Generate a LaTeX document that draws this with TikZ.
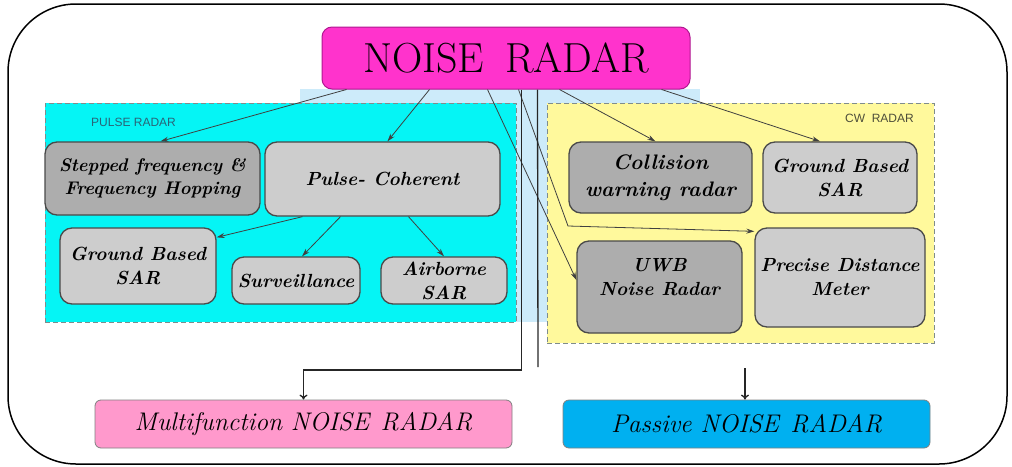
\documentclass[tikz,border=0pt]{standalone}
\usepackage{fontspec}
\setsansfont{Liberation Sans}
\usetikzlibrary{arrows.meta, positioning}

\definecolor{noisepink}{HTML}{FF33CC}
\definecolor{noiseline}{HTML}{B01890}
\definecolor{pulsecyan}{HTML}{05F5F5}
\definecolor{cwyellow}{HTML}{FFF99C}
\definecolor{bandblue}{HTML}{CDEBFA}
\definecolor{greylight}{HTML}{CDCDCD}
\definecolor{greydark}{HTML}{ADADAD}
\definecolor{boxline}{HTML}{4A4A4A}
\definecolor{groupline}{HTML}{7F8C8C}
\definecolor{multipink}{HTML}{FF99CC}
\definecolor{passiveblue}{HTML}{00B0F0}
\definecolor{pulsetext}{HTML}{2A6478}
\definecolor{cwtext}{HTML}{4E4E3A}

\begin{document}
\begin{tikzpicture}[x=1pt, y=-1pt, >={Stealth[length=8pt,width=5pt]},
    box/.style={draw=boxline, rectangle, rounded corners=12pt, line width=1.3pt, align=center,
        font=\fontsize{19}{24}\selectfont\bfseries\itshape, inner sep=2pt},
    lightbox/.style={box, fill=greylight},
    darkbox/.style={box, fill=greydark},
    group/.style={draw=groupline, dashed, dash pattern=on 5pt off 3pt, line width=1pt, inner sep=0pt},
    grouplabel/.style={font=\sffamily\fontsize{12}{14}\selectfont, inner sep=0pt},
    result/.style={draw=boxline!70, rounded corners=6pt, line width=0.8pt,
        font=\fontsize{25.5}{28}\selectfont\itshape, inner sep=0pt, minimum height=48pt},
    link/.style={->, draw=black!75, line width=0.8pt},
    feed/.style={draw=black!85, line width=1.3pt},
    down/.style={feed, -{To[length=5pt,width=8pt]}},
]
\useasboundingbox (0,0) rectangle (1012,466);

% frame
\draw[line width=1.5pt, rounded corners=68pt] (8,4) rectangle (1007,464);

% light band behind the two groups
\fill[bandblue] (300,89) rectangle (700,322);

% groups
\node[group, fill=pulsecyan, minimum width=471pt, minimum height=219pt] (pulse) at (280.5,212.5) {};
\node[group, fill=cwyellow, minimum width=387pt, minimum height=240pt] (cw) at (740.5,223) {};
\node[grouplabel, text=pulsetext, anchor=west] (pulselbl) at (91,122) {PULSE RADAR};
\node[grouplabel, text=cwtext, anchor=east] (cwlbl) at (914,118) {CW\ \ RADAR};

% top
\node[draw=noiseline, fill=noisepink, rounded corners=10pt, line width=1pt,
    minimum width=368pt, minimum height=62pt, font=\fontsize{42}{46}\selectfont] (noise) at (506,58) {NOISE\hspace{.5em}RADAR};

% pulse radar
\node[darkbox, minimum width=215pt, minimum height=73pt, font=\fontsize{18.3}{23}\selectfont\bfseries\itshape] (stepped) at (152.5,178.5) {Stepped frequency \&\\Frequency Hopping};
\node[lightbox, minimum width=235pt, minimum height=74pt] (coherent) at (382.5,179) {Pulse- Coherent};
\node[lightbox, minimum width=156pt, minimum height=76pt] (gbsarL) at (138,266) {Ground Based\\SAR};
\node[lightbox, minimum width=128pt, minimum height=47pt] (surv) at (296,280.5) {Surveillance};
\node[lightbox, minimum width=126pt, minimum height=47pt] (airborne) at (444,280.5) {Airborne\\SAR};

% cw radar
\node[darkbox, minimum width=183pt, minimum height=71pt, font=\fontsize{21}{27}\selectfont\bfseries\itshape] (collision) at (660.5,177.5) {Collision\\warning radar};
\node[lightbox, minimum width=154pt, minimum height=71pt] (gbsarR) at (840,177.5) {Ground Based\\SAR};
\node[darkbox, minimum width=165pt, minimum height=92pt] (uwb) at (659.5,287) {UWB\\Noise Radar\\[-4pt]};
\node[lightbox, minimum width=170pt, minimum height=99pt] (precise) at (840,277.5) {Precise Distance\\Meter};

% results
\node[result, fill=multipink, minimum width=417pt] (multi) at (303.5,424) {Multifunction NOISE\hspace{.45em}RADAR};
\node[result, fill=passiveblue, minimum width=367pt] (passive) at (746.5,424) {Passive NOISE\hspace{.45em}RADAR};

\coordinate (bend) at (568,226);
\coordinate (mjoin) at (303.5,370);
\coordinate (cwend) at (538,367);
\coordinate (pin) at (745,368);

% links
\draw[link] ([xshift=25pt]noise.south west) -- ([xshift=8pt]stepped.north);
\draw[link] ([xshift=108pt]noise.south west) -- ([xshift=5pt]coherent.north);
\draw[link] ([xshift=166pt]noise.south west) -- ([yshift=7pt]uwb.west);
\draw[link] ([xshift=197pt]noise.south west) -- (bend) -- ([yshift=-4pt]precise.north west);
\draw[link] ([xshift=238pt]noise.south west) -- ([xshift=-5pt]collision.north);
\draw[link] ([xshift=340pt]noise.south west) -- ([xshift=-20pt]gbsarR.north);
\draw[link] ([xshift=-80pt]coherent.south) -- ([yshift=-10pt]gbsarL.north east);
\draw[link] ([xshift=-42pt]coherent.south) -- ([xshift=6pt]surv.north);
\draw[link] ([xshift=26pt]coherent.south) -- (airborne.north);

% feeds to the bottom
\draw[down] ([xshift=200pt]noise.south west) |- (mjoin) -- (multi.north);
\draw[feed] ([xshift=216pt]noise.south west) -- (cwend);
\draw[down] (pin) -- ([xshift=-1.5pt]passive.north);
\end{tikzpicture}
\end{document}
